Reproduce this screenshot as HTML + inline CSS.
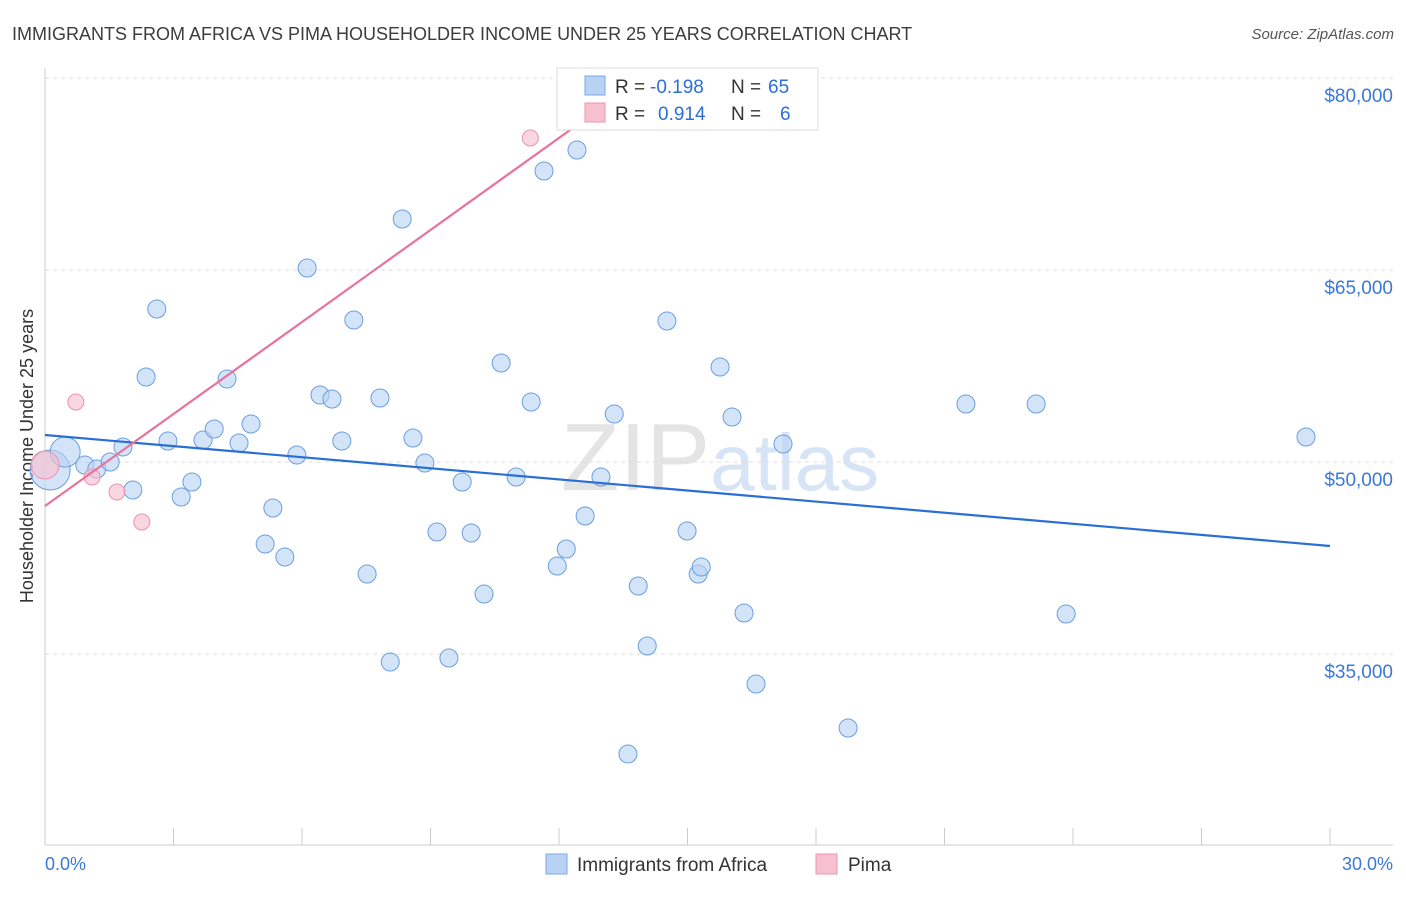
<!DOCTYPE html>
<html><head><meta charset="utf-8"><style>
body{margin:0;background:#fff;font-family:"Liberation Sans",sans-serif}
svg text{font-family:"Liberation Sans",sans-serif}
</style></head><body>
<svg id="c" width="1406" height="892" xmlns="http://www.w3.org/2000/svg">
<text x="12" y="40" font-size="18" fill="#3c3c3c">IMMIGRANTS FROM AFRICA VS PIMA HOUSEHOLDER INCOME UNDER 25 YEARS CORRELATION CHART</text>
<text x="1394" y="39" font-size="15" fill="#555" font-style="italic" text-anchor="end">Source: ZipAtlas.com</text>
<text x="720" y="490" font-size="96" fill="#e4e4e4" text-anchor="middle" font-family="Liberation Serif">ZIP<tspan fill="#d6e4f5" font-family="Liberation Sans" font-size="80">atlas</tspan></text>
<g id="grid"></g>
<line x1="45" y1="68" x2="45" y2="845" stroke="#ccc"/>
<line x1="45" y1="845" x2="1393" y2="845" stroke="#ccc"/>
<g id="xt"></g>
<text x="45" y="870" font-size="18" fill="#3a78d8">0.0%</text>
<text x="1393" y="870" font-size="18" fill="#3a78d8" text-anchor="end">30.0%</text>
<text transform="translate(33,456) rotate(-90)" font-size="18" fill="#333" text-anchor="middle">Householder Income Under 25 years</text>
<g id="pts"></g>
<g id="lines"></g>
<g>
<rect x="557" y="68" width="261" height="62" fill="#fff" stroke="#ddd"/>
<rect x="585" y="76" width="20" height="19" fill="#b8d2f4" stroke="#7aa8e6"/>
<rect x="585" y="103" width="20" height="19" fill="#f7c0cf" stroke="#eb93ad"/>
<text x="615" y="93" font-size="19" fill="#333">R = <tspan fill="#2a6fd6" x="650">-0.198</tspan><tspan x="731" fill="#333">N = </tspan><tspan fill="#2a6fd6" x="768">65</tspan></text>
<text x="615" y="120" font-size="19" fill="#333">R = <tspan fill="#2a6fd6" x="658">0.914</tspan><tspan x="731" fill="#333">N = </tspan><tspan fill="#2a6fd6" x="780">6</tspan></text>
</g>
<g>
<rect x="546" y="854" width="21" height="20" fill="#b8d2f4" stroke="#7aa8e6"/>
<text x="577" y="871" font-size="19" fill="#333">Immigrants from Africa</text>
<rect x="816" y="854" width="21" height="20" fill="#f7c0cf" stroke="#eb93ad"/>
<text x="848" y="871" font-size="19" fill="#333">Pima</text>
</g>
</svg>
<script>
const yTicks=[35000,50000,65000,80000];
const yTickLabels=["$35,000","$50,000","$65,000","$80,000"];
const africaX=[0.12,0.47,0.93,1.21,1.52,1.82,2.05,2.36,2.61,2.87,3.18,3.43,3.69,3.95,4.25,4.53,4.81,5.14,5.32,5.60,5.88,6.12,6.42,6.70,6.93,7.21,7.52,7.82,8.06,8.34,8.59,8.87,9.15,9.43,9.74,9.95,10.25,10.65,11.00,11.35,11.65,11.96,12.17,12.42,12.61,12.98,13.29,13.61,13.85,14.06,14.52,14.99,15.25,15.32,15.76,16.04,16.32,16.60,17.23,18.75,21.50,23.14,23.84,29.44];
const africaY=[49375,50781,49766,49453,50000,51172,47813,56641,61953,51641,47266,48438,51719,52578,56484,51484,52969,43594,46406,42578,50547,65156,55234,54922,51641,61094,41250,55000,34375,68984,51875,49922,44531,34688,48438,44453,39688,57734,48828,54688,72734,41875,43203,74375,45781,48828,53750,27188,40313,35625,61016,44609,41250,41797,57422,53516,38203,32656,51406,29219,54531,54531,38125,51953];
const pimaX=[0.0,0.72,1.10,1.68,2.26,11.33];
const pimaY=[49766,54688,48828,47656,45313,75313];
const africaTrendX=[0,30],africaTrendY=[52109,43438];
const pimaTrendX=[0,13.89],pimaTrendY=[46563,79844];
const X=p=>45+p*42.833, Y=v=>462-(v-50000)*0.0128;
const NS="http://www.w3.org/2000/svg";
function mk(t,a,parent){const e=document.createElementNS(NS,t);for(const k in a)e.setAttribute(k,a[k]);document.getElementById(parent).appendChild(e);return e;}
yTicks.forEach((v,i)=>{
 const l=mk('line',{x1:45,x2:1393,y1:Y(v),y2:Y(v),stroke:'#ddd','stroke-dasharray':'4,4'},'grid');
 
 
 const t=mk('text',{x:1393,y:Y(v)+24,'font-size':19,fill:'#3a78d8','text-anchor':'end'},'grid');
 t.textContent=yTickLabels[i];
 
 
});
for(let i=0;i<=10;i++){
 const l=mk('line',{x1:X(i*3),x2:X(i*3),y1:828,y2:845,stroke:'#ccc'},'xt');
 
 
}
africaX.forEach((x,i)=>{
 const r=i==0?20:(i==1?15:9);
 const c=mk('circle',{cx:X(x),cy:Y(africaY[i]),r:r,fill:'#b8d2f4','fill-opacity':0.6,stroke:'#6a9fe0','stroke-width':1},'pts');
 
 
});
pimaX.forEach((x,i)=>{
 const r=i==0?14:8;
 const c=mk('circle',{cx:X(x),cy:Y(pimaY[i]),r:r,fill:'#f7c0cf','fill-opacity':0.65,stroke:'#eb93ad','stroke-width':1},'pts');
 
 
});
const bl=mk('line',{x1:X(africaTrendX[0]),y1:Y(africaTrendY[0]),x2:X(africaTrendX[1]),y2:Y(africaTrendY[1]),stroke:'#2a6fd6','stroke-width':2.2},'lines');


const pl=mk('line',{x1:X(pimaTrendX[0]),y1:Y(pimaTrendY[0]),x2:X(pimaTrendX[1]),y2:Y(pimaTrendY[1]),stroke:'#e8739a','stroke-width':2.2},'lines');


</script>
</body></html>
